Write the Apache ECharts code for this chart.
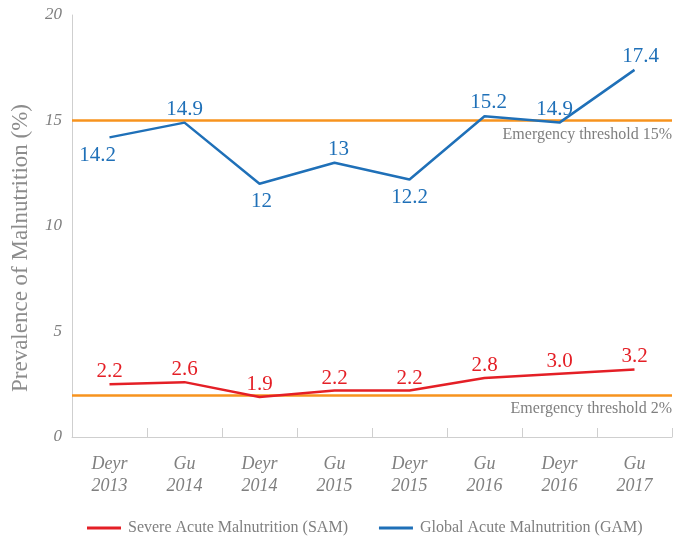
<!DOCTYPE html>
<html>
<head>
<meta charset="utf-8">
<script src="https://cdn.jsdelivr.net/npm/echarts@6/dist/echarts.min.js"></script>
<style>
  html, body { margin: 0; padding: 0; background: #fff; }
  #chart { width: 685px; height: 536px; }
</style>
</head>
<body>
<div id="chart"></div>
<script>
const categories = ["Deyr\n2013", "Gu\n2014", "Deyr\n2014", "Gu\n2015", "Deyr\n2015", "Gu\n2016", "Deyr\n2016", "Gu\n2017"];
const samValues = [2.5, 2.6, 1.9, 2.2, 2.2, 2.8, 3.0, 3.2];
const samLabels = ["2.2", "2.6", "1.9", "2.2", "2.2", "2.8", "3.0", "3.2"];
const gamValues = [14.2, 14.9, 12, 13, 12.2, 15.2, 14.9, 17.4];
const gamLabels = ["14.2", "14.9", "12", "13", "12.2", "15.2", "14.9", "17.4"];
const thresholds = [15, 2];
const thresholdLabels = ["Emergency threshold 15%", "Emergency threshold 2%"];

const serif = "'Liberation Serif', 'DejaVu Serif', serif";
const grey = "#7f7f7f";
const blue = "#1f70b8";
const red = "#e41f26";
const orange = "#f7931e";

// where each GAM label sits relative to its point
const gamPos = ["bottom", "top", "bottom", "top", "bottom", "top", "top", "top"];
const gamOffset = [[-12, 5], [0, 0], [2, 4], [4, 0], [0, 4], [4, 0], [-5, 0], [6, 0]];

const chart = echarts.init(document.getElementById("chart"));

chart.setOption({
  animation: false,
  grid: { left: 72, right: 13, top: 15, bottom: 99, containLabel: false, outerBoundsMode: "none" },
  legend: {
    top: 515,
    left: 82,
    itemWidth: 34,
    itemHeight: 3,
    itemGap: 31,
    icon: "rect",
    textStyle: { fontFamily: serif, fontSize: 16, color: grey, padding: [0, 0, 0, 2] },
    data: ["Severe Acute Malnutrition (SAM)", "Global Acute Malnutrition (GAM)"]
  },
  xAxis: {
    type: "category",
    data: categories,
    boundaryGap: true,
    axisLine: { lineStyle: { color: "#cfcfcf", width: 1 } },
    axisTick: { show: true, inside: true, length: 9, lineStyle: { color: "#cfcfcf", width: 1 } },
    axisLabel: {
      fontFamily: serif,
      fontStyle: "italic",
      fontSize: 18,
      color: grey,
      lineHeight: 22,
      margin: 16
    }
  },
  yAxis: {
    type: "value",
    min: 0,
    max: 20,
    interval: 5,
    name: "Prevalence of Malnutrition (%)",
    nameLocation: "middle",
    nameGap: 40,
    nameTextStyle: { fontFamily: serif, fontSize: 23, color: "#8c8c8c", padding: [0, 44, 0, 0] },
    axisLine: { show: true, lineStyle: { color: "#cfcfcf", width: 1 } },
    axisTick: { show: false },
    splitLine: { show: false },
    axisLabel: {
      fontFamily: serif,
      fontStyle: "italic",
      fontSize: 17,
      color: grey,
      margin: 10
    }
  },
  series: [
    {
      name: "Severe Acute Malnutrition (SAM)",
      type: "line",
      data: samValues,
      symbol: "circle",
      symbolSize: 0.1,
      showSymbol: true,
      z: 3,
      lineStyle: { color: red, width: 2.5 },
      itemStyle: { color: red },
      label: {
        show: true,
        position: "top",
        distance: 2,
        fontFamily: serif,
        fontSize: 21,
        color: red,
        formatter: (p) => samLabels[p.dataIndex]
      }
    },
    {
      name: "Global Acute Malnutrition (GAM)",
      type: "line",
      data: gamValues.map((v, i) => ({
        value: v,
        label: { position: gamPos[i], offset: gamOffset[i] }
      })),
      symbol: "circle",
      symbolSize: 0.1,
      showSymbol: true,
      z: 3,
      lineStyle: { color: blue, width: 2.5 },
      itemStyle: { color: blue },
      label: {
        show: true,
        distance: 3,
        fontFamily: serif,
        fontSize: 21,
        color: blue,
        formatter: (p) => gamLabels[p.dataIndex]
      },
      markLine: {
        silent: true,
        symbol: "none",
        z: 2,
        lineStyle: { color: orange, width: 2.5, type: "solid" },
        label: {
          position: "insideEndBottom",
          distance: [0, 6],
          fontFamily: serif,
          fontSize: 16,
          color: grey
        },
        data: thresholds.map((t, i) => ({
          yAxis: t,
          label: { formatter: thresholdLabels[i] }
        }))
      }
    }
  ]
});
</script>
</body>
</html>
